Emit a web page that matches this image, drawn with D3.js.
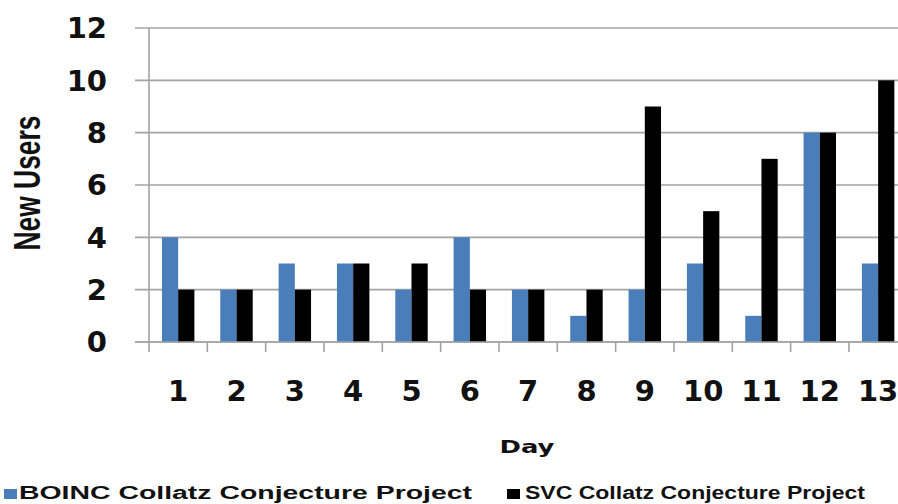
<!DOCTYPE html>
<html>
<head>
<meta charset="utf-8">
<script src="https://cdn.jsdelivr.net/npm/d3@7"></script>
<style>
  html, body { margin: 0; padding: 0; background: #fff; }
  svg { display: block; }
</style>
</head>
<body>
<svg id="chart" width="898" height="504"></svg>
<script>
// New users per day for the two Collatz projects
const days = ["1","2","3","4","5","6","7","8","9","10","11","12","13"];
const seriesNames = ["BOINC Collatz Conjecture Project", "SVC Collatz Conjecture Project"];
const boincUsers = [4, 2, 3, 3, 2, 4, 2, 1, 2, 3, 1, 8, 3];
const svcUsers   = [2, 2, 2, 3, 3, 2, 2, 2, 9, 5, 7, 8, 10];
const yTicks = [0, 2, 4, 6, 8, 10, 12];
const colors = ["#4a7ebb", "#000000"];

const svg = d3.select("#chart");
const W = 898;

const plot = { left: 149, top: 28, bottom: 342, bandW: 58.33 };
const x = d3.scaleBand().domain(days)
  .range([plot.left, plot.left + plot.bandW * days.length]).padding(0);
const xs = d3.scaleBand().domain(seriesNames)
  .range([x.bandwidth() * 0.222, x.bandwidth() * 0.778]).padding(0);
const y = d3.scaleLinear().domain([0, 12]).range([plot.bottom, plot.top]);

const gridColor = "#a3a3a3";

// horizontal gridlines (they also act as the y-axis ticks)
svg.append("g")
  .selectAll("line").data(yTicks).join("line")
  .attr("x1", 135).attr("x2", W)
  .attr("y1", d => y(d)).attr("y2", d => y(d))
  .attr("stroke", gridColor).attr("stroke-width", 1.6);

// y tick labels
svg.append("g")
  .selectAll("text").data(yTicks).join("text")
  .attr("x", 107).attr("y", d => y(d))
  .attr("dy", "0.36em")
  .attr("text-anchor", "end")
  .attr("font-family", "DejaVu Sans, Verdana, sans-serif")
  .attr("font-weight", "bold")
  .attr("font-size", 29)
  .attr("fill", "#111")
  .text(d => d);

// bars
const rows = days.map((d, i) => ({ day: d, values: [boincUsers[i], svcUsers[i]] }));
const groups = svg.append("g").selectAll("g").data(rows).join("g")
  .attr("transform", d => `translate(${x(d.day)},0)`);
groups.selectAll("rect")
  .data(d => d.values.map((v, k) => ({ key: seriesNames[k], value: v, k })))
  .join("rect")
  .attr("x", d => xs(d.key))
  .attr("width", xs.bandwidth())
  .attr("y", d => y(d.value))
  .attr("height", d => y(0) - y(d.value))
  .attr("fill", d => colors[d.k]);

// y axis line
svg.append("line")
  .attr("x1", plot.left).attr("x2", plot.left)
  .attr("y1", y(12)).attr("y2", plot.bottom + 10)
  .attr("stroke", gridColor).attr("stroke-width", 1.6);

// x axis line and category boundary ticks
svg.append("line")
  .attr("x1", 135).attr("x2", W)
  .attr("y1", plot.bottom).attr("y2", plot.bottom)
  .attr("stroke", gridColor).attr("stroke-width", 1.6);
svg.append("g")
  .selectAll("line").data(days.slice(1)).join("line")
  .attr("x1", d => x(d)).attr("x2", d => x(d))
  .attr("y1", plot.bottom).attr("y2", plot.bottom + 10)
  .attr("stroke", gridColor).attr("stroke-width", 1.6);

// x tick labels
svg.append("g")
  .selectAll("text").data(days).join("text")
  .attr("x", d => x(d) + x.bandwidth() / 2)
  .attr("y", 401)
  .attr("text-anchor", "middle")
  .attr("font-family", "DejaVu Sans, Verdana, sans-serif")
  .attr("font-weight", "bold")
  .attr("font-size", 29)
  .attr("fill", "#111")
  .text(d => d);

// axis titles
svg.append("text")
  .attr("transform", "translate(40,183) rotate(-90)")
  .attr("text-anchor", "middle")
  .attr("font-family", "Liberation Sans Narrow, Liberation Sans, Arial, sans-serif")
  .attr("font-weight", "bold")
  .attr("font-size", 36)
  .attr("textLength", 135)
  .attr("lengthAdjust", "spacingAndGlyphs")
  .attr("fill", "#111")
  .text("New Users");

svg.append("text")
  .attr("x", 527).attr("y", 453)
  .attr("text-anchor", "middle")
  .attr("font-family", "DejaVu Sans, Verdana, sans-serif")
  .attr("font-weight", "bold")
  .attr("font-size", 18)
  .attr("textLength", 55)
  .attr("lengthAdjust", "spacingAndGlyphs")
  .attr("fill", "#111")
  .text("Day");

// legend
const legendItems = [
  { name: seriesNames[0], color: colors[0], sx: 4, tx: 19, tw: 453 },
  { name: seriesNames[1], color: colors[1], sx: 507, tx: 525, tw: 340 }
];
const lg = svg.append("g").selectAll("g").data(legendItems).join("g");
lg.append("rect")
  .attr("x", d => d.sx).attr("y", 489)
  .attr("width", 13).attr("height", 10)
  .attr("fill", d => d.color);
lg.append("text")
  .attr("x", d => d.tx).attr("y", 499)
  .attr("font-family", "Liberation Sans, Arial, sans-serif")
  .attr("font-weight", "bold")
  .attr("font-size", 18)
  .attr("textLength", d => d.tw)
  .attr("lengthAdjust", "spacingAndGlyphs")
  .attr("fill", "#111")
  .text(d => d.name);
</script>
</body>
</html>
